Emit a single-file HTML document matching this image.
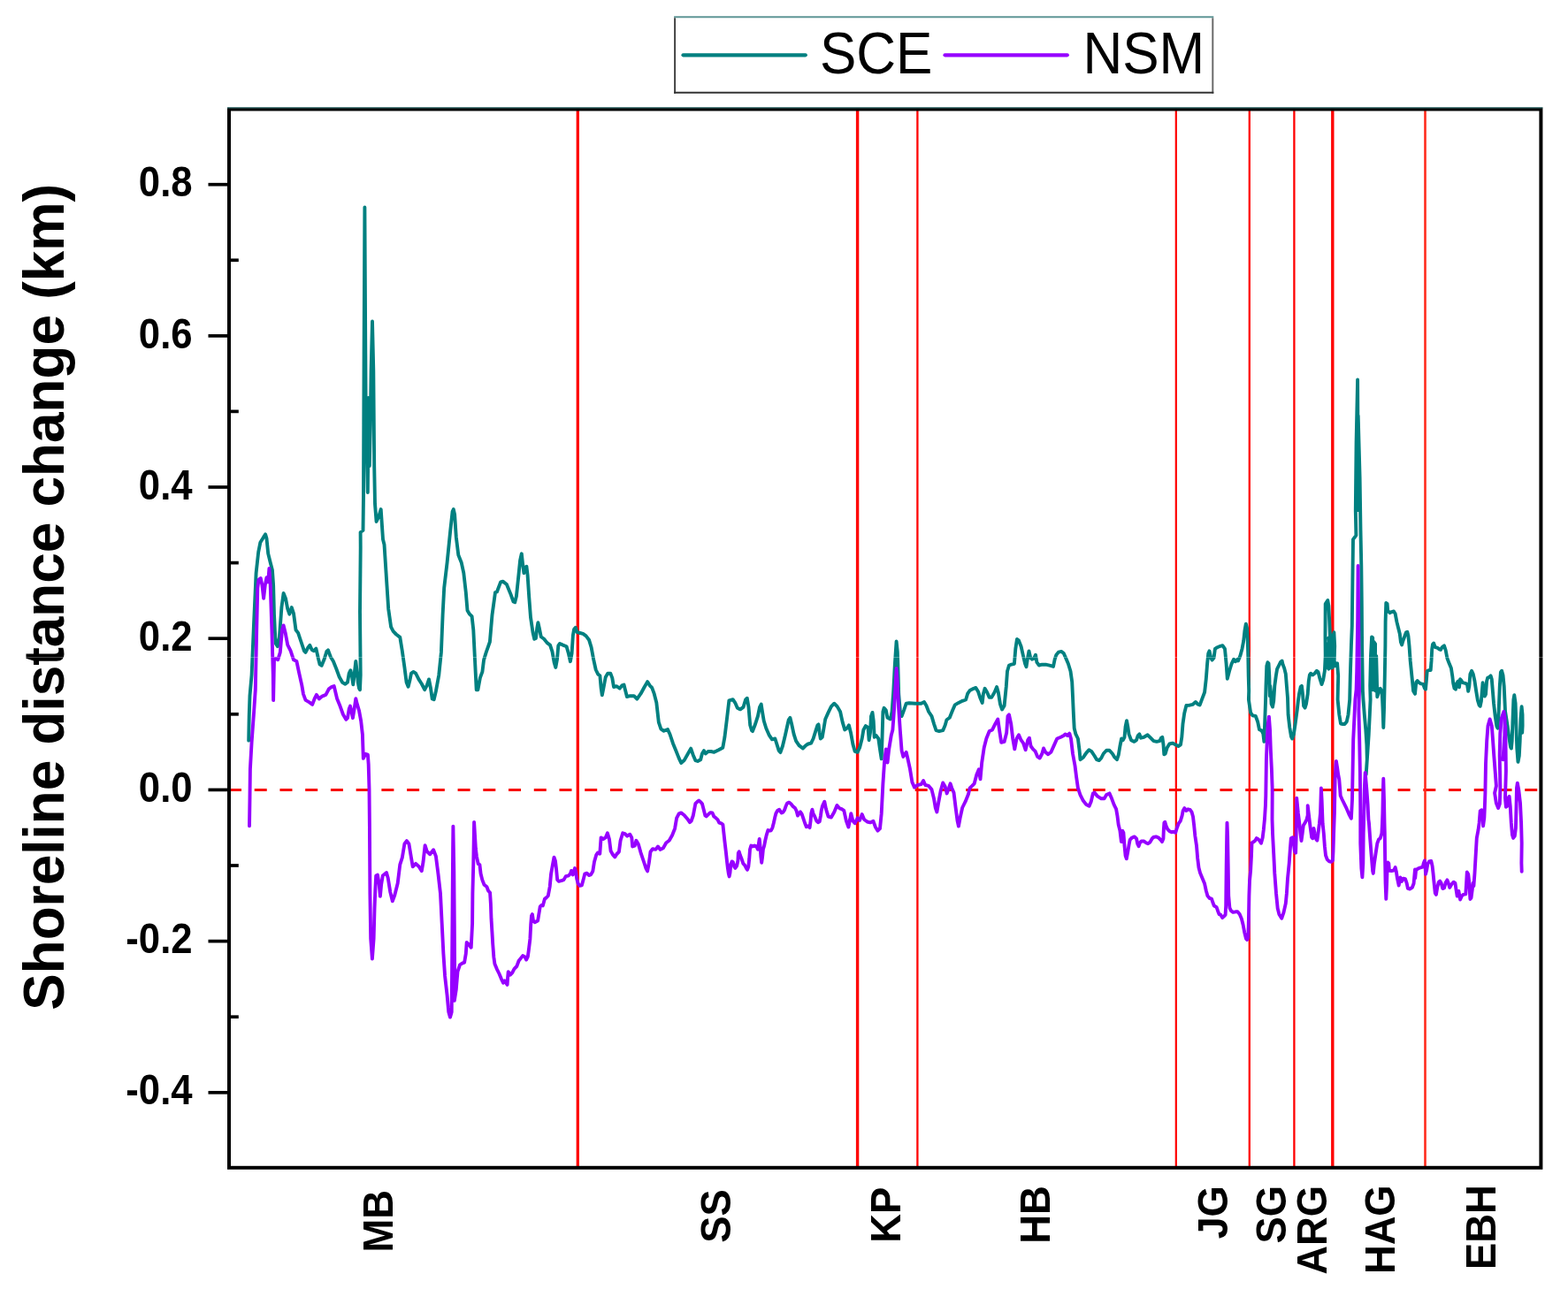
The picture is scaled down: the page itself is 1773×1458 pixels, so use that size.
<!DOCTYPE html>
<html lang="en">
<head>
<meta charset="utf-8">
<title>Shoreline distance change (km) - SCE / NSM</title>
<style>
html,body{margin:0;padding:0;background:#fff;}
body{width:1773px;height:1458px;overflow:hidden;}
svg{display:block;}
text{font-family:"Liberation Sans",sans-serif;fill:#000;}
.tl{font-weight:bold;font-size:43.7px;text-anchor:end;}
.xl{font-weight:bold;font-size:45.3px;text-anchor:end;}
.yt{font-weight:bold;font-size:62.1px;text-anchor:middle;}
.lg{font-size:62px;}
</style>
</head>
<body>
<svg width="1773" height="1458" viewBox="0 0 1773 1458">
<rect x="0" y="0" width="1773" height="1458" fill="#ffffff"/>
<line x1="259.0" y1="893.4" x2="1742.4" y2="893.4" stroke="#f80800" stroke-width="3" stroke-dasharray="14 14.73"/>
<g stroke="#ff0000">
<line x1="653.3" y1="123.5" x2="653.3" y2="1320.8" stroke-width="3.3"/>
<line x1="969.6" y1="123.5" x2="969.6" y2="1320.8" stroke-width="3.4"/>
<line x1="1037.4" y1="123.5" x2="1037.4" y2="1320.8" stroke-width="2.3"/>
<line x1="1329.8" y1="123.5" x2="1329.8" y2="1320.8" stroke-width="2.2"/>
<line x1="1412.8" y1="123.5" x2="1412.8" y2="1320.8" stroke-width="2.3"/>
<line x1="1463.4" y1="123.5" x2="1463.4" y2="1320.8" stroke-width="2.3"/>
<line x1="1506.8" y1="123.5" x2="1506.8" y2="1320.8" stroke-width="3.4"/>
<line x1="1611.5" y1="123.5" x2="1611.5" y2="1320.8" stroke-width="2.6" stroke="#ff2a1c"/>
</g>
<polyline fill="none" stroke="#008080" stroke-width="3.9" stroke-linejoin="round" stroke-linecap="round" points="281.2,837.6 281.7,810.5 282.5,786.8 284.6,763.3 287.1,704.0 289.6,648.1 292.2,624.4 294.4,613.4 298.1,607.4 300.1,604.4 301.5,609.1 303.2,626.1 305.7,636.2 307.9,644.7 309.1,661.6 310.0,695.5 310.8,712.5 311.7,727.7 313.9,731.1 315.9,720.9 318.4,687.1 320.6,671.0 323.0,676.9 325.2,688.7 327.3,694.7 329.8,687.1 332.0,693.8 334.5,712.5 337.1,715.9 340.5,726.0 343.9,736.2 345.5,737.9 348.1,732.8 350.3,729.9 352.8,735.3 354.9,736.2 357.4,733.6 359.9,744.7 361.6,751.4 363.7,752.8 366.4,746.3 369.3,737.0 371.0,735.3 373.8,743.0 376.9,748.0 380.3,756.5 383.7,765.8 387.1,771.8 390.4,773.8 393.0,771.8 394.7,761.6 396.4,758.2 398.1,765.8 399.3,774.3 400.6,763.3 402.3,748.0 403.7,759.9 404.8,771.8 406.0,778.5 407.0,780.2 407.7,763.3 407.0,692.1 407.7,619.3 407.6,602.0 410.5,600.0 411.0,560.0 411.3,480.0 411.6,400.0 412.4,234.5 413.3,400.0 413.6,448.0 414.5,500.0 415.8,557.0 416.4,500.0 416.6,450.0 417.3,500.0 417.8,527.0 418.8,480.0 419.6,420.0 421.0,363.5 422.3,420.0 422.8,480.0 423.2,527.0 424.0,570.0 425.6,590.0 428.0,585.0 430.7,576.0 433.0,610.0 434.5,615.9 437.0,654.9 439.2,688.7 442.1,709.1 444.7,714.2 448.0,717.5 452.3,720.9 454.8,736.2 457.4,754.8 459.6,771.8 461.6,776.8 463.3,770.1 465.0,761.6 467.5,759.9 470.1,761.6 473.5,768.4 476.8,773.5 480.2,780.2 482.8,775.1 485.0,768.4 487.0,778.5 488.7,790.4 490.7,791.2 492.9,781.9 496.3,763.3 498.9,737.9 500.6,695.5 502.2,665.0 505.6,636.2 509.0,602.4 511.6,578.6 512.8,576.1 514.1,582.0 515.8,607.4 518.3,627.8 521.7,636.2 524.3,648.1 526.8,670.1 528.5,690.4 531.0,694.7 533.6,697.2 535.3,712.5 537.0,746.3 538.7,780.2 540.4,780.2 542.9,766.7 545.4,759.9 547.1,746.3 549.7,737.9 553.9,726.0 556.5,695.5 560.0,670.1 561.9,669.5 566.1,658.4 568.6,657.6 572.9,661.0 577.1,671.2 580.5,680.5 582.2,681.3 583.9,674.5 586.4,650.8 588.1,633.9 589.8,626.3 591.0,637.3 592.4,648.3 593.7,642.4 595.4,640.7 596.6,650.8 598.3,676.2 600.0,698.3 602.5,715.2 604.2,722.8 605.9,722.0 607.3,710.1 608.4,704.2 610.1,711.8 611.8,720.3 615.2,722.8 618.6,727.1 622.0,729.6 624.5,737.2 626.6,749.1 628.3,755.0 630.0,745.7 631.3,730.4 633.0,727.9 636.4,729.6 640.6,731.3 642.8,738.9 644.9,748.2 646.6,738.9 647.9,718.6 649.1,711.8 650.8,709.8 652.5,715.2 655.9,716.0 659.3,716.9 662.7,719.4 666.0,723.7 668.6,732.1 671.1,745.7 673.7,757.5 676.2,762.6 678.4,764.3 679.6,777.9 680.8,786.3 682.5,777.9 684.7,766.0 687.2,761.8 690.3,761.8 692.3,766.9 694.0,777.0 697.4,776.2 700.8,778.7 703.3,775.3 705.5,774.5 707.2,781.3 708.9,788.0 712.6,787.2 716.9,787.2 720.3,790.6 724.5,784.7 728.7,777.0 732.1,771.1 734.7,775.3 737.2,777.9 739.7,784.7 742.3,794.8 744.8,816.9 747.4,824.6 750.7,826.8 755.0,825.1 757.5,830.5 760.9,840.7 764.3,849.1 767.7,857.6 770.2,863.0 773.6,860.1 777.9,852.5 781.2,846.6 783.8,854.2 786.3,860.1 788.9,861.0 792.2,859.3 793.9,852.5 796.0,849.1 797.7,852.5 800.7,850.0 804.1,850.0 807.5,850.8 812.6,848.3 817.3,845.7 819.4,833.9 821.9,813.6 824.4,792.3 828.7,791.1 831.2,794.8 833.8,800.7 837.1,802.4 840.5,799.9 843.1,791.4 844.8,789.7 846.5,799.9 848.2,820.2 850.0,826.2 851.0,827.1 853.6,820.3 856.9,810.1 859.0,799.9 860.7,796.6 862.0,805.0 863.7,815.2 866.3,823.7 869.6,831.3 873.0,836.4 876.4,835.5 878.6,842.3 880.7,849.1 882.4,851.1 884.9,844.0 887.4,833.8 890.0,822.0 891.7,814.3 893.4,811.8 895.1,818.6 897.6,830.4 900.1,838.1 903.5,843.1 907.8,846.5 911.2,843.1 913.7,841.5 917.1,840.6 919.6,835.5 922.2,827.1 924.4,820.3 925.5,819.4 926.7,828.7 927.8,835.5 929.8,833.8 931.5,823.7 933.2,813.5 936.6,805.9 939.9,799.1 943.3,795.7 946.7,799.1 950.1,805.0 952.7,816.9 955.2,825.4 957.7,823.7 959.9,820.3 962.0,828.7 964.5,842.3 966.7,849.9 969.6,850.8 972.1,845.7 974.7,835.5 976.4,825.4 978.9,821.1 981.5,822.8 982.6,837.2 984.0,828.7 985.0,810.1 986.5,805.9 987.7,815.2 988.7,833.8 990.8,832.1 993.3,835.5 995.0,847.4 996.7,858.4 997.5,835.5 998.4,805.0 999.6,800.8 1001.8,803.3 1003.5,811.8 1006.9,813.5 1008.6,805.0 1010.3,781.3 1011.9,750.8 1013.6,725.4 1014.8,737.3 1015.3,750.8 1016.2,784.7 1017.9,805.0 1019.6,810.1 1022.1,803.3 1024.7,795.7 1028.0,795.2 1034.8,795.7 1041.6,795.7 1045.0,794.0 1047.5,798.3 1050.1,805.0 1053.5,810.1 1056.0,818.6 1058.5,826.2 1061.9,827.1 1066.2,826.2 1068.7,820.3 1070.4,814.3 1073.8,811.8 1077.2,803.3 1079.7,797.4 1083.9,794.9 1088.2,792.8 1092.1,791.5 1094.1,784.7 1096.6,781.0 1100.9,778.8 1103.4,777.9 1106.0,782.2 1108.5,789.8 1110.7,794.9 1111.9,784.7 1113.6,778.8 1116.1,783.0 1118.7,788.9 1121.2,788.9 1124.6,783.0 1127.1,777.1 1128.8,783.0 1131.0,796.6 1133.1,802.5 1135.6,798.3 1137.8,776.2 1139.0,759.3 1141.0,752.5 1143.6,751.7 1146.9,750.8 1148.3,733.9 1150.0,722.9 1152.0,724.6 1154.6,731.3 1157.1,742.4 1159.1,750.8 1160.5,754.2 1161.8,745.7 1163.5,736.4 1165.2,744.0 1166.9,745.7 1169.0,744.9 1171.0,740.7 1172.4,749.1 1174.9,752.5 1178.3,751.7 1182.5,751.7 1187.6,752.9 1191.0,753.9 1192.7,745.7 1194.4,740.7 1196.9,737.6 1200.3,736.9 1202.8,739.0 1205.4,744.9 1207.9,750.8 1210.5,759.3 1212.2,771.2 1213.0,788.1 1213.9,808.4 1214.7,823.7 1216.4,830.4 1218.9,835.5 1220.6,849.1 1221.5,859.2 1224.9,856.7 1228.3,851.6 1231.3,848.2 1234.2,849.9 1237.6,855.0 1240.1,859.2 1242.7,860.1 1245.2,857.5 1247.7,852.5 1251.1,848.7 1254.5,848.7 1257.9,852.5 1260.4,856.7 1263.0,859.2 1264.7,854.2 1266.4,844.0 1268.1,835.5 1269.8,837.2 1271.5,833.8 1272.6,822.0 1274.0,815.2 1275.3,822.0 1276.5,830.4 1279.1,837.2 1282.5,838.9 1285.0,837.2 1286.7,832.1 1288.4,830.4 1290.1,834.7 1293.5,833.8 1297.7,831.3 1301.1,834.7 1304.5,838.1 1307.9,838.9 1311.3,838.1 1313.0,834.7 1314.3,833.8 1315.5,842.3 1316.3,853.3 1317.7,852.5 1319.7,845.7 1322.3,841.5 1325.7,840.6 1329.1,842.3 1332.4,844.0 1335.0,842.3 1336.3,833.8 1337.5,818.6 1339.2,806.7 1341.4,797.9 1344.3,797.9 1348.5,796.9 1351.9,794.0 1354.5,796.6 1356.7,797.4 1359.5,789.8 1362.1,783.0 1363.8,767.8 1365.1,750.8 1366.3,739.0 1367.5,736.4 1369.2,744.0 1370.6,746.6 1372.6,744.0 1373.9,733.9 1376.5,732.2 1379.9,730.8 1382.4,730.2 1385.0,733.9 1386.6,750.8 1387.8,767.8 1390.0,759.3 1392.6,750.8 1395.1,745.7 1396.8,748.3 1399.4,745.7 1400.0,747.5 1402.3,741.9 1404.5,733.9 1406.2,724.9 1407.4,713.6 1408.8,705.6 1410.0,710.2 1410.8,724.9 1411.3,741.9 1411.7,764.5 1412.2,781.5 1411.9,791.3 1414.1,806.0 1416.4,809.4 1419.8,810.0 1422.1,816.2 1424.0,825.3 1426.6,826.4 1428.3,829.8 1429.4,838.9 1430.3,814.0 1431.1,791.3 1431.5,775.8 1432.3,753.2 1433.4,749.2 1434.5,750.4 1435.3,764.5 1435.8,787.1 1436.2,775.8 1436.9,781.5 1437.6,796.2 1439.0,799.6 1440.2,792.8 1441.3,775.8 1442.8,764.5 1444.1,756.6 1446.4,752.1 1448.1,748.7 1449.6,747.5 1450.7,752.1 1452.1,755.4 1453.8,762.2 1454.9,775.8 1456.0,789.4 1456.6,808.3 1458.3,823.0 1460.0,833.2 1461.1,835.5 1462.8,830.9 1464.5,819.6 1466.8,802.6 1467.9,792.8 1469.0,784.9 1470.7,777.0 1471.9,775.8 1473.0,784.9 1474.1,798.5 1475.6,800.7 1477.0,796.2 1478.7,784.9 1479.8,770.2 1480.9,763.4 1482.1,761.7 1484.3,763.4 1486.6,761.7 1488.9,758.8 1490.5,760.0 1492.2,766.8 1494.5,774.1 1496.2,769.0 1497.9,758.8 1498.7,741.9 1498.5,719.2 1498.7,683.0 1501.3,679.0 1502.4,685.3 1503.2,702.3 1503.9,719.2 1501.9,730.5 1500.2,753.2 1502.4,756.6 1503.2,730.5 1502.4,721.5 1504.1,726.0 1503.6,753.2 1505.3,755.4 1505.8,730.5 1504.7,719.2 1505.8,719.2 1507.0,718.1 1507.5,741.9 1506.6,755.4 1508.1,741.9 1508.4,715.3 1509.2,730.5 1508.7,747.5 1510.0,753.2 1512.1,750.4 1513.2,764.5 1512.6,791.3 1514.3,808.3 1516.0,818.5 1518.3,819.0 1520.5,819.0 1522.8,816.2 1524.5,808.3 1526.2,791.3 1526.8,764.5 1527.9,730.5 1528.8,707.9 1529.4,658.8 1530.0,610.2 1533.4,605.6 1532.8,577.4 1533.6,500.0 1535.1,429.5 1535.9,577.0 1535.7,470.0 1537.6,540.0 1538.5,600.0 1539.3,640.0 1539.8,685.3 1540.1,730.5 1540.9,781.5 1541.5,791.3 1542.8,808.3 1544.3,825.3 1545.4,842.3 1545.8,859.2 1544.7,876.2 1546.2,853.6 1547.7,830.9 1548.8,808.3 1549.6,791.3 1549.2,775.8 1550.0,741.9 1551.1,720.4 1552.2,721.5 1551.9,753.2 1552.8,780.4 1553.7,753.2 1553.4,726.0 1555.1,728.3 1554.8,764.5 1555.5,781.5 1556.2,741.9 1556.8,764.5 1557.3,788.3 1559.0,782.6 1560.7,778.7 1562.4,781.5 1563.0,789.1 1563.6,802.6 1564.3,823.0 1565.0,802.6 1565.5,780.0 1565.8,764.5 1566.4,730.5 1566.6,703.4 1567.3,681.9 1568.6,683.0 1569.2,690.9 1571.5,693.2 1573.7,692.1 1576.0,691.5 1577.7,694.3 1579.4,703.4 1581.1,710.2 1582.8,717.0 1583.9,726.0 1585.1,729.4 1586.8,723.8 1588.5,719.2 1589.9,715.3 1591.3,714.7 1592.4,719.2 1593.5,730.5 1594.7,747.5 1596.4,764.5 1598.1,781.5 1600.0,784.9 1601.3,771.7 1602.7,770.0 1604.7,772.2 1607.0,773.4 1609.2,773.9 1610.9,778.5 1612.0,779.6 1612.8,770.5 1613.7,759.2 1615.4,758.1 1617.7,758.1 1618.5,747.9 1619.2,734.3 1620.0,728.7 1621.1,727.5 1622.8,732.1 1625.1,732.6 1627.3,734.3 1629.0,734.9 1630.7,732.1 1633.0,730.4 1634.7,735.5 1636.4,744.5 1638.6,750.2 1640.9,755.8 1642.3,764.9 1643.2,772.8 1644.5,778.5 1646.0,779.6 1647.1,772.8 1648.8,770.5 1650.0,777.3 1651.1,768.3 1652.2,769.4 1653.9,772.2 1656.8,772.8 1659.0,773.9 1660.2,781.9 1661.3,776.2 1662.4,762.6 1664.1,758.7 1665.8,762.6 1667.5,770.5 1669.2,781.9 1670.9,792.1 1672.6,797.7 1673.7,798.8 1674.9,793.2 1675.8,781.9 1676.6,772.2 1677.7,778.5 1678.8,787.5 1680.0,785.3 1681.1,770.5 1682.2,766.6 1683.9,766.0 1685.6,764.3 1686.8,768.3 1687.9,781.9 1689.0,795.4 1690.7,810.2 1692.4,821.5 1693.5,823.7 1694.7,804.5 1695.8,776.2 1696.9,760.4 1698.1,758.7 1699.5,763.8 1700.7,776.2 1701.5,793.2 1702.0,804.5 1704.6,821.0 1706.3,833.8 1708.0,844.8 1708.9,846.5 1709.7,838.0 1710.6,812.5 1711.4,791.3 1712.3,786.2 1713.6,795.5 1714.4,821.0 1715.3,846.5 1716.5,861.8 1717.8,855.0 1718.7,838.0 1719.5,812.5 1720.6,799.3 1721.5,808.3 1721.6,821.0 1721.2,828.7"/>
<polyline fill="none" stroke="#9600ff" stroke-width="3.9" stroke-linejoin="round" stroke-linecap="round" points="282.0,934.2 282.5,902.0 282.9,869.8 284.6,839.3 287.1,805.4 288.8,780.0 290.2,712.5 291.3,665.0 292.5,655.7 294.7,654.0 296.4,661.6 298.1,676.9 299.8,661.6 301.5,653.2 303.2,658.3 304.4,643.0 305.7,661.6 307.4,712.5 308.8,763.3 309.1,792.1 310.0,746.3 311.7,744.7 314.2,746.3 316.8,737.9 319.0,712.5 320.6,707.4 322.7,715.9 325.2,729.4 328.6,736.2 332.0,746.3 335.4,748.0 337.9,759.9 341.3,775.1 343.0,785.1 345.5,791.9 349.8,794.4 353.2,796.9 355.7,790.2 357.9,785.9 360.8,790.5 364.2,787.6 368.4,785.9 371.8,779.4 375.2,776.8 377.7,776.0 381.1,790.2 384.5,798.6 387.9,808.0 391.3,813.9 393.0,812.2 394.7,802.0 396.0,798.6 397.6,805.4 398.9,812.2 400.6,802.0 402.3,790.2 404.0,796.9 406.0,803.7 408.2,815.6 409.9,830.8 410.8,857.9 413.3,852.8 415.9,853.7 416.7,864.7 417.5,892.7 417.9,932.5 418.4,1010.8 419.2,1061.6 420.9,1084.5 422.6,1061.6 423.5,1027.8 424.3,1007.4 425.2,990.5 426.9,989.6 428.6,999.0 429.9,1013.9 431.1,1000.7 432.8,990.5 437.0,987.1 438.7,993.0 441.3,1009.1 443.8,1019.3 446.3,1012.5 449.7,999.0 452.3,977.8 454.8,970.2 457.4,954.5 459.9,951.1 462.4,954.5 465.0,970.2 466.7,980.3 470.1,976.9 473.5,980.0 476.8,985.1 478.5,975.2 480.6,956.2 482.8,963.0 486.2,966.3 490.1,961.3 492.9,968.5 495.5,988.8 498.0,1010.8 499.7,1044.7 501.4,1078.6 503.1,1104.0 505.6,1126.0 507.3,1144.7 509.0,1150.6 510.7,1144.7 511.1,1095.5 512.1,960.0 512.4,934.6 513.3,985.4 513.8,1044.7 514.1,1095.5 513.8,1131.9 515.8,1119.2 517.5,1098.9 520.0,1091.3 522.6,1089.6 525.1,1088.7 526.8,1078.6 527.7,1065.9 530.2,1068.4 532.7,1071.8 534.1,1044.7 534.4,1010.8 535.3,976.9 536.1,929.9 537.9,960.0 539.0,969.1 540.7,977.0 542.4,978.1 543.6,988.3 545.3,995.1 547.5,1000.7 550.4,1003.0 552.1,1007.5 554.1,1009.8 554.9,1022.3 555.5,1039.2 556.4,1053.9 557.2,1067.5 558.3,1082.2 559.4,1090.2 561.7,1095.8 564.5,1101.5 566.8,1107.1 569.0,1111.7 570.7,1109.4 572.4,1112.2 573.6,1113.9 574.1,1106.0 574.7,1099.2 577.0,1102.6 579.2,1100.4 581.5,1095.8 584.3,1093.0 586.6,1086.8 588.9,1083.9 591.1,1081.1 593.4,1082.2 595.1,1085.6 596.8,1082.2 597.9,1074.3 599.4,1061.9 600.2,1046.0 601.0,1035.8 601.9,1034.1 603.0,1041.5 604.7,1043.2 608.1,1041.5 609.2,1034.7 610.7,1025.6 612.1,1024.0 613.8,1024.5 616.0,1016.6 617.7,1015.5 619.8,1013.2 621.7,1003.0 623.1,988.3 625.1,977.0 626.5,969.6 627.9,973.6 629.0,982.6 630.2,995.1 631.9,996.8 634.7,996.2 637.5,995.1 639.8,991.1 642.6,990.6 644.9,988.3 646.0,984.9 647.7,989.4 650.0,982.1 651.1,986.0 652.2,994.0 653.7,999.6 655.6,1001.9 657.9,1001.3 659.6,995.1 661.3,988.3 663.6,987.7 665.8,990.0 668.1,989.4 670.3,985.5 672.0,974.7 674.3,966.8 676.0,964.5 678.3,965.7 679.6,947.4 682.1,949.1 684.7,947.4 686.9,942.3 688.9,949.1 690.6,962.6 693.1,966.9 695.3,969.4 697.4,966.0 699.9,963.5 701.6,950.8 704.2,942.3 706.7,943.1 709.2,945.7 712.3,943.7 714.3,947.4 715.2,957.5 717.7,956.7 719.4,950.8 721.9,955.0 724.5,964.3 727.9,974.5 730.4,982.1 732.1,985.5 733.8,976.2 735.5,963.5 738.0,960.1 741.4,960.9 744.0,957.5 746.5,960.9 749.9,959.2 753.3,953.3 756.7,950.8 760.1,944.8 763.1,937.2 765.1,925.4 767.7,920.3 770.2,919.4 773.6,922.0 777.9,927.1 780.0,930.2 781.7,928.5 783.8,922.5 785.1,915.7 786.4,908.9 788.5,906.8 790.2,905.5 792.3,907.2 794.0,909.3 795.7,915.7 797.4,922.5 798.7,923.4 801.3,920.8 803.4,919.1 805.5,919.5 807.2,923.4 809.3,925.1 811.5,927.2 813.2,930.6 815.7,931.4 817.4,932.7 818.3,941.2 819.5,952.3 820.8,963.3 822.1,975.2 822.9,982.0 823.8,988.0 824.6,991.4 825.5,987.1 826.3,977.8 827.6,974.4 828.9,975.2 830.2,980.3 831.4,982.0 833.1,979.5 834.4,973.5 834.8,965.0 835.7,963.3 837.0,967.6 838.7,971.8 840.4,976.9 842.1,978.6 843.8,982.0 845.1,983.7 846.3,980.3 847.2,971.8 848.0,960.8 849.3,956.5 851.0,957.4 853.1,956.5 855.3,957.4 857.0,960.8 857.8,954.8 858.7,948.9 859.5,956.5 860.4,969.3 861.2,975.7 862.1,969.3 862.9,960.8 864.2,956.5 865.5,949.7 866.7,944.6 868.4,939.1 870.1,939.5 871.8,939.5 873.5,936.1 874.8,931.0 876.1,925.1 877.4,920.0 879.1,917.0 881.2,915.7 882.5,917.8 883.7,919.5 885.4,918.7 887.1,916.1 888.4,912.3 890.1,908.5 892.2,907.6 894.4,909.3 896.5,911.9 899.0,914.0 900.7,917.4 902.0,922.5 903.3,920.8 905.0,918.3 906.7,920.8 908.4,925.9 910.1,931.0 911.8,935.3 913.9,934.4 915.6,936.1 916.5,929.3 917.3,920.0 918.4,915.7 919.5,920.0 921.2,923.4 923.3,928.5 925.0,930.2 926.7,929.3 928.0,922.5 928.8,916.6 930.0,911.5 932.3,906.7 934.0,915.1 936.6,923.6 939.9,924.5 943.3,918.5 946.4,910.9 949.3,914.3 951.8,915.1 954.3,916.8 956.9,928.7 959.4,935.5 961.1,927.0 962.3,920.2 964.5,928.7 966.7,931.2 969.6,925.3 972.1,927.9 974.7,921.1 977.2,927.0 980.6,929.5 984.0,930.4 987.4,928.7 989.9,935.5 992.5,939.7 995.0,937.2 996.7,920.2 998.4,886.3 1000.1,860.9 1001.8,847.4 1003.5,862.6 1005.2,847.4 1007.7,832.1 1009.4,825.4 1011.1,801.6 1012.5,776.2 1013.6,755.9 1014.8,771.2 1016.2,801.6 1017.9,827.1 1019.6,849.1 1021.3,855.9 1023.0,853.3 1024.7,850.8 1026.3,857.5 1028.9,869.4 1031.4,884.7 1034.0,890.6 1037.4,888.0 1041.6,887.2 1044.1,883.0 1046.3,888.0 1050.1,888.9 1053.5,893.1 1056.0,903.3 1057.7,913.5 1059.4,918.5 1061.1,908.4 1063.6,894.8 1066.2,885.5 1068.7,889.7 1070.7,897.4 1072.9,891.4 1074.6,886.3 1076.3,891.4 1078.5,896.5 1080.6,913.5 1082.6,928.7 1083.9,934.6 1085.6,925.3 1088.2,913.5 1091.6,906.7 1095.0,898.2 1096.6,891.4 1099.2,888.9 1101.7,886.3 1104.3,876.2 1106.8,870.3 1108.5,881.3 1110.2,862.6 1112.7,845.7 1115.3,835.5 1118.7,827.1 1122.1,825.4 1125.4,818.6 1128.3,813.5 1130.5,828.7 1132.2,839.8 1135.6,838.9 1138.2,828.7 1139.5,810.1 1141.0,808.4 1143.2,818.6 1145.2,835.5 1147.3,847.4 1149.5,835.5 1152.0,831.3 1154.6,837.2 1157.1,840.6 1159.6,848.2 1162.2,837.2 1163.9,834.7 1165.6,844.0 1168.1,847.4 1170.7,849.9 1173.2,855.9 1175.7,857.5 1178.3,852.5 1180.0,846.5 1182.2,850.8 1185.1,853.3 1188.4,850.8 1191.8,843.1 1195.2,835.5 1199.5,833.8 1202.8,832.1 1204.5,830.4 1207.1,832.1 1209.3,829.6 1211.0,835.5 1213.0,852.5 1215.5,866.0 1217.2,879.6 1218.9,891.4 1221.5,899.1 1224.9,905.8 1228.3,910.1 1231.6,911.8 1233.7,906.7 1235.9,897.4 1237.6,896.5 1241.0,900.7 1245.2,903.3 1248.6,903.3 1251.1,899.1 1254.5,897.4 1257.1,903.3 1259.6,910.1 1262.1,915.1 1263.4,922.6 1264.7,932.8 1266.4,939.6 1267.9,952.1 1269.2,939.6 1270.4,941.9 1271.5,956.6 1272.6,967.9 1273.8,971.3 1275.1,964.5 1276.6,955.5 1277.7,949.8 1280.0,947.5 1282.8,946.4 1285.1,948.7 1286.2,954.3 1287.6,957.2 1289.0,953.2 1290.7,951.5 1293.6,951.5 1295.8,953.2 1298.1,954.3 1300.4,952.6 1302.6,948.7 1304.3,947.0 1307.2,946.4 1310.0,947.5 1312.3,949.8 1314.0,952.1 1315.4,948.7 1315.9,937.4 1316.4,930.6 1317.3,929.7 1318.5,934.0 1320.2,937.9 1322.4,940.2 1324.7,941.3 1327.0,940.7 1329.2,941.9 1330.9,936.2 1332.6,931.7 1334.9,928.3 1336.6,922.6 1337.7,917.0 1339.4,914.1 1341.5,917.0 1343.4,915.3 1345.6,915.8 1347.6,918.7 1349.0,923.8 1350.2,934.0 1351.3,945.3 1353.0,956.6 1354.1,970.2 1355.5,981.5 1357.0,987.2 1359.8,993.9 1362.1,999.6 1363.8,1007.5 1365.4,1013.2 1367.7,1016.0 1370.0,1016.6 1371.1,1020.0 1372.8,1024.5 1375.6,1026.2 1377.0,1030.2 1378.5,1034.1 1380.2,1034.7 1382.2,1038.1 1384.1,1036.4 1385.6,1034.7 1386.2,1024.5 1386.7,979.2 1387.2,945.3 1387.5,930.6 1388.1,945.3 1388.7,979.2 1389.2,1013.2 1390.4,1026.8 1392.0,1030.2 1394.3,1031.9 1397.1,1031.3 1399.4,1031.3 1401.7,1034.1 1403.9,1039.2 1405.6,1046.0 1407.3,1055.1 1409.0,1061.9 1410.2,1063.0 1411.3,1060.7 1411.9,1041.5 1412.4,1013.2 1413.0,996.2 1414.1,984.9 1415.0,967.9 1415.5,953.2 1416.9,952.6 1419.2,950.9 1420.9,948.1 1422.6,949.2 1424.3,950.9 1426.0,953.8 1427.7,947.5 1428.8,938.5 1430.0,926.0 1430.9,911.3 1431.3,900.0 1431.9,859.2 1432.8,836.6 1433.7,819.6 1434.9,810.6 1436.0,825.3 1436.8,847.9 1437.9,870.5 1438.7,893.2 1438.5,926.8 1439.0,942.6 1440.2,965.3 1441.3,987.9 1443.0,1010.5 1444.7,1027.5 1446.4,1034.3 1449.2,1038.8 1451.5,1032.1 1453.8,1021.9 1454.9,1010.5 1456.0,993.6 1457.7,976.6 1458.9,959.6 1459.8,948.3 1461.7,947.2 1462.8,954.0 1464.0,963.0 1465.1,964.7 1465.6,948.3 1466.0,920.0 1466.2,902.8 1467.9,920.0 1469.3,931.3 1470.4,942.6 1471.5,951.1 1472.7,942.6 1473.8,933.6 1475.3,931.3 1477.5,926.8 1478.7,922.3 1478.7,911.3 1480.4,925.7 1481.5,934.7 1483.2,947.2 1484.3,948.3 1485.5,937.0 1486.6,942.6 1488.3,949.4 1489.4,950.6 1490.5,942.6 1491.9,931.3 1493.0,920.0 1493.5,904.5 1493.9,891.5 1494.6,904.5 1495.6,931.3 1496.8,942.6 1497.9,957.4 1499.0,967.5 1500.7,972.1 1503.0,974.3 1505.3,974.9 1507.0,973.2 1507.5,963.0 1508.1,942.6 1508.9,920.0 1509.6,881.9 1510.4,866.0 1510.9,860.9 1512.1,868.3 1513.2,876.2 1514.3,881.9 1515.2,893.2 1515.7,900.0 1517.7,904.5 1522.2,913.6 1525.6,921.5 1527.9,925.7 1529.0,904.5 1529.6,870.5 1530.2,836.6 1531.3,814.0 1532.4,791.3 1533.6,780.0 1534.2,760.0 1535.2,700.0 1535.6,640.0 1536.2,700.0 1537.0,780.0 1536.4,802.6 1537.2,836.6 1537.9,873.9 1538.3,915.8 1538.3,954.0 1539.4,982.3 1540.4,992.4 1541.3,976.6 1541.7,942.6 1542.3,920.0 1542.8,893.2 1543.7,873.9 1545.4,893.2 1546.6,910.2 1547.4,927.1 1548.0,931.3 1549.2,948.3 1550.5,965.3 1552.2,985.6 1552.8,987.9 1553.9,976.6 1555.6,965.3 1557.3,954.0 1559.0,949.4 1560.7,948.3 1562.4,942.6 1563.0,931.3 1563.4,920.0 1563.9,893.2 1564.3,880.7 1565.0,904.5 1565.5,931.3 1565.8,942.6 1566.2,976.6 1566.6,999.2 1567.3,1016.8 1568.1,999.2 1568.6,982.3 1569.2,975.5 1570.3,976.6 1570.9,984.5 1573.2,985.1 1576.0,984.5 1577.7,981.1 1578.8,985.6 1580.0,993.6 1581.7,1001.5 1583.4,992.4 1585.1,997.0 1586.8,993.6 1589.0,994.1 1590.7,999.2 1591.9,1004.9 1594.1,1005.5 1596.9,1003.8 1598.6,999.2 1600.0,983.4 1600.2,993.2 1601.1,984.1 1603.6,982.4 1606.4,981.3 1608.7,980.7 1609.8,976.2 1610.9,973.4 1611.7,981.9 1612.0,988.7 1613.2,984.1 1614.3,977.3 1616.0,974.5 1618.3,973.9 1619.6,979.6 1620.5,987.5 1621.7,1000.0 1622.8,1010.2 1623.9,1011.9 1625.3,1003.4 1626.8,997.7 1628.2,996.6 1629.6,998.8 1631.3,1005.1 1633.0,1004.5 1634.7,998.3 1636.4,995.4 1637.7,998.8 1639.2,1003.9 1641.5,1000.0 1643.7,997.7 1645.4,998.8 1646.6,1006.8 1647.7,1013.6 1649.4,1007.9 1651.1,1017.5 1652.8,1013.6 1654.5,1011.9 1657.3,1011.3 1658.1,998.8 1658.8,986.4 1660.2,988.7 1661.3,998.8 1662.4,1017.0 1663.5,1015.8 1664.7,1006.8 1665.6,998.8 1666.4,1002.2 1667.5,987.5 1668.6,968.3 1669.8,947.9 1671.5,938.9 1672.6,930.9 1673.7,917.4 1675.4,916.2 1676.6,925.3 1677.1,934.3 1678.3,925.3 1678.8,914.0 1679.4,897.0 1680.0,863.5 1681.2,838.0 1682.5,821.0 1684.6,813.4 1686.8,821.0 1688.1,838.0 1689.3,855.0 1690.6,872.0 1691.9,889.0 1690.1,897.0 1691.8,908.3 1694.1,914.0 1695.8,909.4 1696.4,891.3 1695.7,855.0 1696.3,829.5 1697.8,812.5 1700.4,804.9 1701.7,812.5 1701.2,838.0 1699.5,859.3 1700.8,838.0 1702.3,821.0 1702.6,846.5 1702.9,872.0 1702.0,902.6 1702.9,912.8 1704.3,911.7 1705.4,902.6 1706.6,900.9 1707.7,911.7 1708.8,930.9 1710.0,944.5 1711.1,947.9 1712.8,945.6 1713.9,936.6 1714.5,914.0 1715.0,891.3 1715.8,885.7 1717.3,893.6 1719.0,908.3 1720.1,930.9 1720.7,953.6 1720.4,976.2 1720.7,985.8"/>
<rect x="259.0" y="123.5" width="1483.4" height="1197.3" fill="none" stroke="#000" stroke-width="4"/>
<line x1="257.0" y1="121.9" x2="1744.4" y2="121.9" stroke="#3f8585" stroke-width="1"/>
<g stroke="#000" stroke-width="3.7">
<line x1="235.5" y1="208.7" x2="259.0" y2="208.7"/>
<line x1="235.5" y1="379.9" x2="259.0" y2="379.9"/>
<line x1="235.5" y1="551.0" x2="259.0" y2="551.0"/>
<line x1="235.5" y1="722.2" x2="259.0" y2="722.2"/>
<line x1="235.5" y1="893.4" x2="259.0" y2="893.4"/>
<line x1="235.5" y1="1064.6" x2="259.0" y2="1064.6"/>
<line x1="235.5" y1="1235.8" x2="259.0" y2="1235.8"/>
<line x1="259.0" y1="294.3" x2="269.8" y2="294.3"/>
<line x1="259.0" y1="465.4" x2="269.8" y2="465.4"/>
<line x1="259.0" y1="636.6" x2="269.8" y2="636.6"/>
<line x1="259.0" y1="807.8" x2="269.8" y2="807.8"/>
<line x1="259.0" y1="979.0" x2="269.8" y2="979.0"/>
<line x1="259.0" y1="1150.2" x2="269.8" y2="1150.2"/>
</g>
<text class="tl" transform="translate(217.6,222.3) scale(1,1.10)">0.8</text>
<text class="tl" transform="translate(217.6,393.5) scale(1,1.10)">0.6</text>
<text class="tl" transform="translate(217.6,564.6) scale(1,1.10)">0.4</text>
<text class="tl" transform="translate(217.6,735.8) scale(1,1.10)">0.2</text>
<text class="tl" transform="translate(217.6,907.0) scale(1,1.10)">0.0</text>
<text class="tl" transform="translate(217.6,1078.2) scale(1,1.10)">-0.2</text>
<text class="tl" transform="translate(217.6,1249.4) scale(1,1.10)">-0.4</text>
<text class="xl" transform="translate(443.8,1346.0) rotate(-90) scale(1,1.063)">MB</text>
<text class="xl" transform="translate(825.6,1345.3) rotate(-90) scale(1,1.063)">SS</text>
<text class="xl" transform="translate(1018.0,1342.9) rotate(-90) scale(1,1.063)">KP</text>
<text class="xl" transform="translate(1186.9,1341.4) rotate(-90) scale(1,1.063)">HB</text>
<text class="xl" transform="translate(1388.1,1341.2) rotate(-90) scale(1,1.063)">JG</text>
<text class="xl" transform="translate(1454.0,1341.0) rotate(-90) scale(1,1.063)">SG</text>
<text class="xl" transform="translate(1500.2,1341.0) rotate(-90) scale(1,1.063)">ARG</text>
<text class="xl" transform="translate(1576.8,1340.4) rotate(-90) scale(1,1.063)">HAG</text>
<text class="xl" transform="translate(1691.0,1340.4) rotate(-90) scale(1,1.063)">EBH</text>
<text class="yt" transform="translate(71.9,675.2) rotate(-90) scale(1,1.03)">Shoreline distance change (km)</text>
<rect x="763.1" y="19.3" width="608.2" height="85.5" fill="#fff"/>
<line x1="762.1" y1="19.3" x2="1372.3" y2="19.3" stroke="#5f9696" stroke-width="2"/>
<line x1="763.1" y1="20.3" x2="763.1" y2="105.8" stroke="#3c3c3c" stroke-width="1.9"/>
<line x1="1371.3" y1="20.3" x2="1371.3" y2="105.8" stroke="#6a6a6a" stroke-width="2"/>
<line x1="762.1" y1="104.8" x2="1372.3" y2="104.8" stroke="#333" stroke-width="2"/>
<line x1="772.5" y1="62.3" x2="910.8" y2="62.3" stroke="#008080" stroke-width="4.2" stroke-linecap="round"/>
<text class="lg" transform="translate(927,83.4) scale(1,1.072)">SCE</text>
<line x1="1068.5" y1="62.3" x2="1206.8" y2="62.3" stroke="#9600ff" stroke-width="4.2" stroke-linecap="round"/>
<text class="lg" transform="translate(1224.4,83.4) scale(1,1.072)">NSM</text>
<line x1="0" y1="743.5" x2="1773" y2="743.5" stroke="#fff" stroke-opacity="0.4" stroke-width="0.7"/>
</svg>
</body>
</html>
